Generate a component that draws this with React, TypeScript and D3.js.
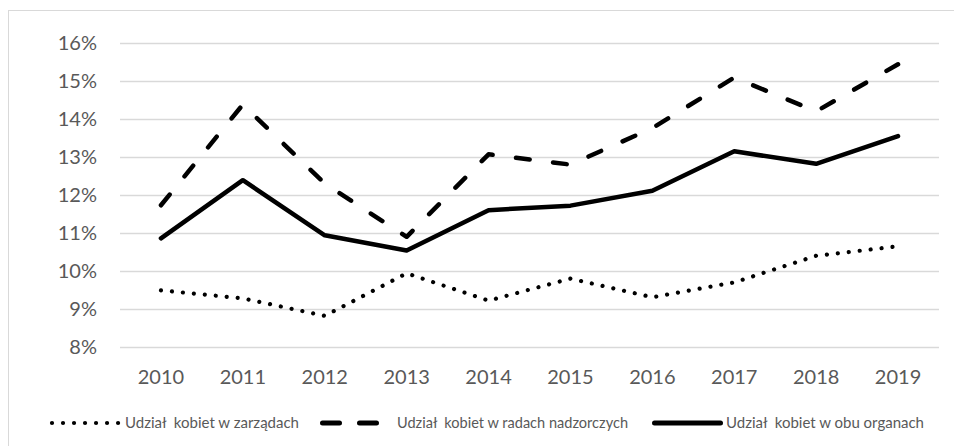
import React, { useRef, useEffect } from 'react';
import * as d3 from 'd3';

const years = ['2010', '2011', '2012', '2013', '2014', '2015', '2016', '2017', '2018', '2019'];
// share of women (%)
const zarzady = [9.49, 9.28, 8.82, 9.94, 9.22, 9.8, 9.31, 9.7, 10.4, 10.65];
const radyNadzorcze = [11.73, 14.38, 12.3, 10.9, 13.07, 12.8, 13.76, 15.09, 14.2, 15.44];
const obuOrgany = [10.86, 12.39, 10.94, 10.54, 11.6, 11.72, 12.11, 13.15, 12.82, 13.55];
const yTicks = [8, 9, 10, 11, 12, 13, 14, 15, 16];

const seriesNames = [
  'Udział  kobiet w zarządach',
  'Udział  kobiet w radach nadzorczych',
  'Udział  kobiet w obu organach',
];

export default function App() {
  const svgRef = useRef<SVGSVGElement>(null);
  const width = 954;
  const height = 446;
  const margin = { top: 43, right: 15, bottom: 99, left: 120 };

  useEffect(() => {
    if (!svgRef.current) return;
    const svg = d3.select(svgRef.current);
    svg.selectAll('*').remove();

    const innerWidth = width - margin.left - margin.right;
    const innerHeight = height - margin.top - margin.bottom;
    const font = 'Lato, sans-serif';
    const textColor = '#595959';
    const gridColor = '#d9d9d9';

    // chart frame
    svg.append('rect')
      .attr('x', 8.5)
      .attr('y', 10.5)
      .attr('width', width)
      .attr('height', height)
      .attr('fill', '#fff')
      .attr('stroke', gridColor)
      .attr('stroke-width', 1);

    const x = d3.scaleBand().domain(years).range([0, innerWidth]);
    const y = d3.scaleLinear().domain([8, 16]).range([innerHeight, 0]);

    const g = svg.append('g').attr('transform', `translate(${margin.left},${margin.top})`);

    // y axis + gridlines
    g.append('g')
      .call(d3.axisLeft(y)
        .tickValues(yTicks)
        .tickSize(-innerWidth)
        .tickPadding(23)
        .tickFormat(d => `${d}%`))
      .call(a => a.select('.domain').remove())
      .call(a => a.selectAll('line').attr('stroke', gridColor).attr('stroke-width', 1.5))
      .call(a => a.selectAll('text')
        .attr('fill', textColor)
        .attr('font-family', font)
        .attr('font-size', 20));

    // x axis labels
    g.append('g')
      .attr('transform', `translate(0,${innerHeight})`)
      .call(d3.axisBottom(x).tickSize(0).tickPadding(0))
      .call(a => a.select('.domain').remove())
      .call(a => a.selectAll('text')
        .attr('y', 30)
        .attr('dy', '0.35em')
        .attr('fill', textColor)
        .attr('font-family', font)
        .attr('font-size', 20));

    const cx = (d: string) => (x(d) || 0) + x.bandwidth() / 2;

    const line = d3.line<number>()
      .x((_, i) => cx(years[i]))
      .y(d => y(d));

    const styles = [
      { data: zarzady, dash: '0.01,11', width: 4.2 },
      { data: radyNadzorcze, dash: 'fit', width: 4.5 },
      { data: obuOrgany, dash: null, width: 4.5 },
    ];

    styles.forEach(s => {
      const p = g.append('path')
        .datum(s.data)
        .attr('d', line)
        .attr('fill', 'none')
        .attr('stroke', '#000')
        .attr('stroke-width', s.width)
        .attr('stroke-linecap', 'round')
        .attr('stroke-linejoin', 'round');
      if (s.dash === 'fit') {
        // stretch the dash pattern so it starts and ends with a dash
        const L = (p.node() as SVGPathElement).getTotalLength();
        const dash = 14, gap = 24;
        const n = Math.max(1, Math.round((L + gap) / (dash + gap)));
        const k = (L + gap) / (n * (dash + gap));
        p.attr('stroke-dasharray', `${dash * k},${gap * k}`);
      } else if (s.dash) {
        p.attr('stroke-dasharray', s.dash);
      }
    });

    // legend
    const ly = 423;
    const legend = svg.append('g');
    const legendItems = [
      { x1: 52, x2: 119, dash: '0.01,11', width: 4.2, tx: 125, tl: 174 },
      { x1: 322.5, x2: 376.5, dash: '17,20', width: 5, tx: 397, tl: 231 },
      { x1: 654.5, x2: 720.5, dash: null, width: 5, tx: 726, tl: 198 },
    ];
    legendItems.forEach((it, i) => {
      legend.append('line')
        .attr('x1', it.x1)
        .attr('x2', it.x2)
        .attr('y1', ly)
        .attr('y2', ly)
        .attr('stroke', '#000')
        .attr('stroke-width', it.width)
        .attr('stroke-linecap', 'round')
        .attr('stroke-dasharray', it.dash);
      legend.append('text')
        .attr('x', it.tx)
        .attr('y', ly)
        .attr('dy', '0.35em')
        .attr('fill', textColor)
        .attr('font-family', font)
        .attr('font-size', 15)
        .attr('textLength', it.tl)
        .attr('lengthAdjust', 'spacingAndGlyphs')
        .style('white-space', 'pre')
        .text(seriesNames[i]);
    });
  }, []);

  return (
    <svg
      ref={svgRef}
      width={width}
      height={height}
      style={{ position: 'absolute', left: 0, top: 0, background: '#fff' }}
    />
  );
}
